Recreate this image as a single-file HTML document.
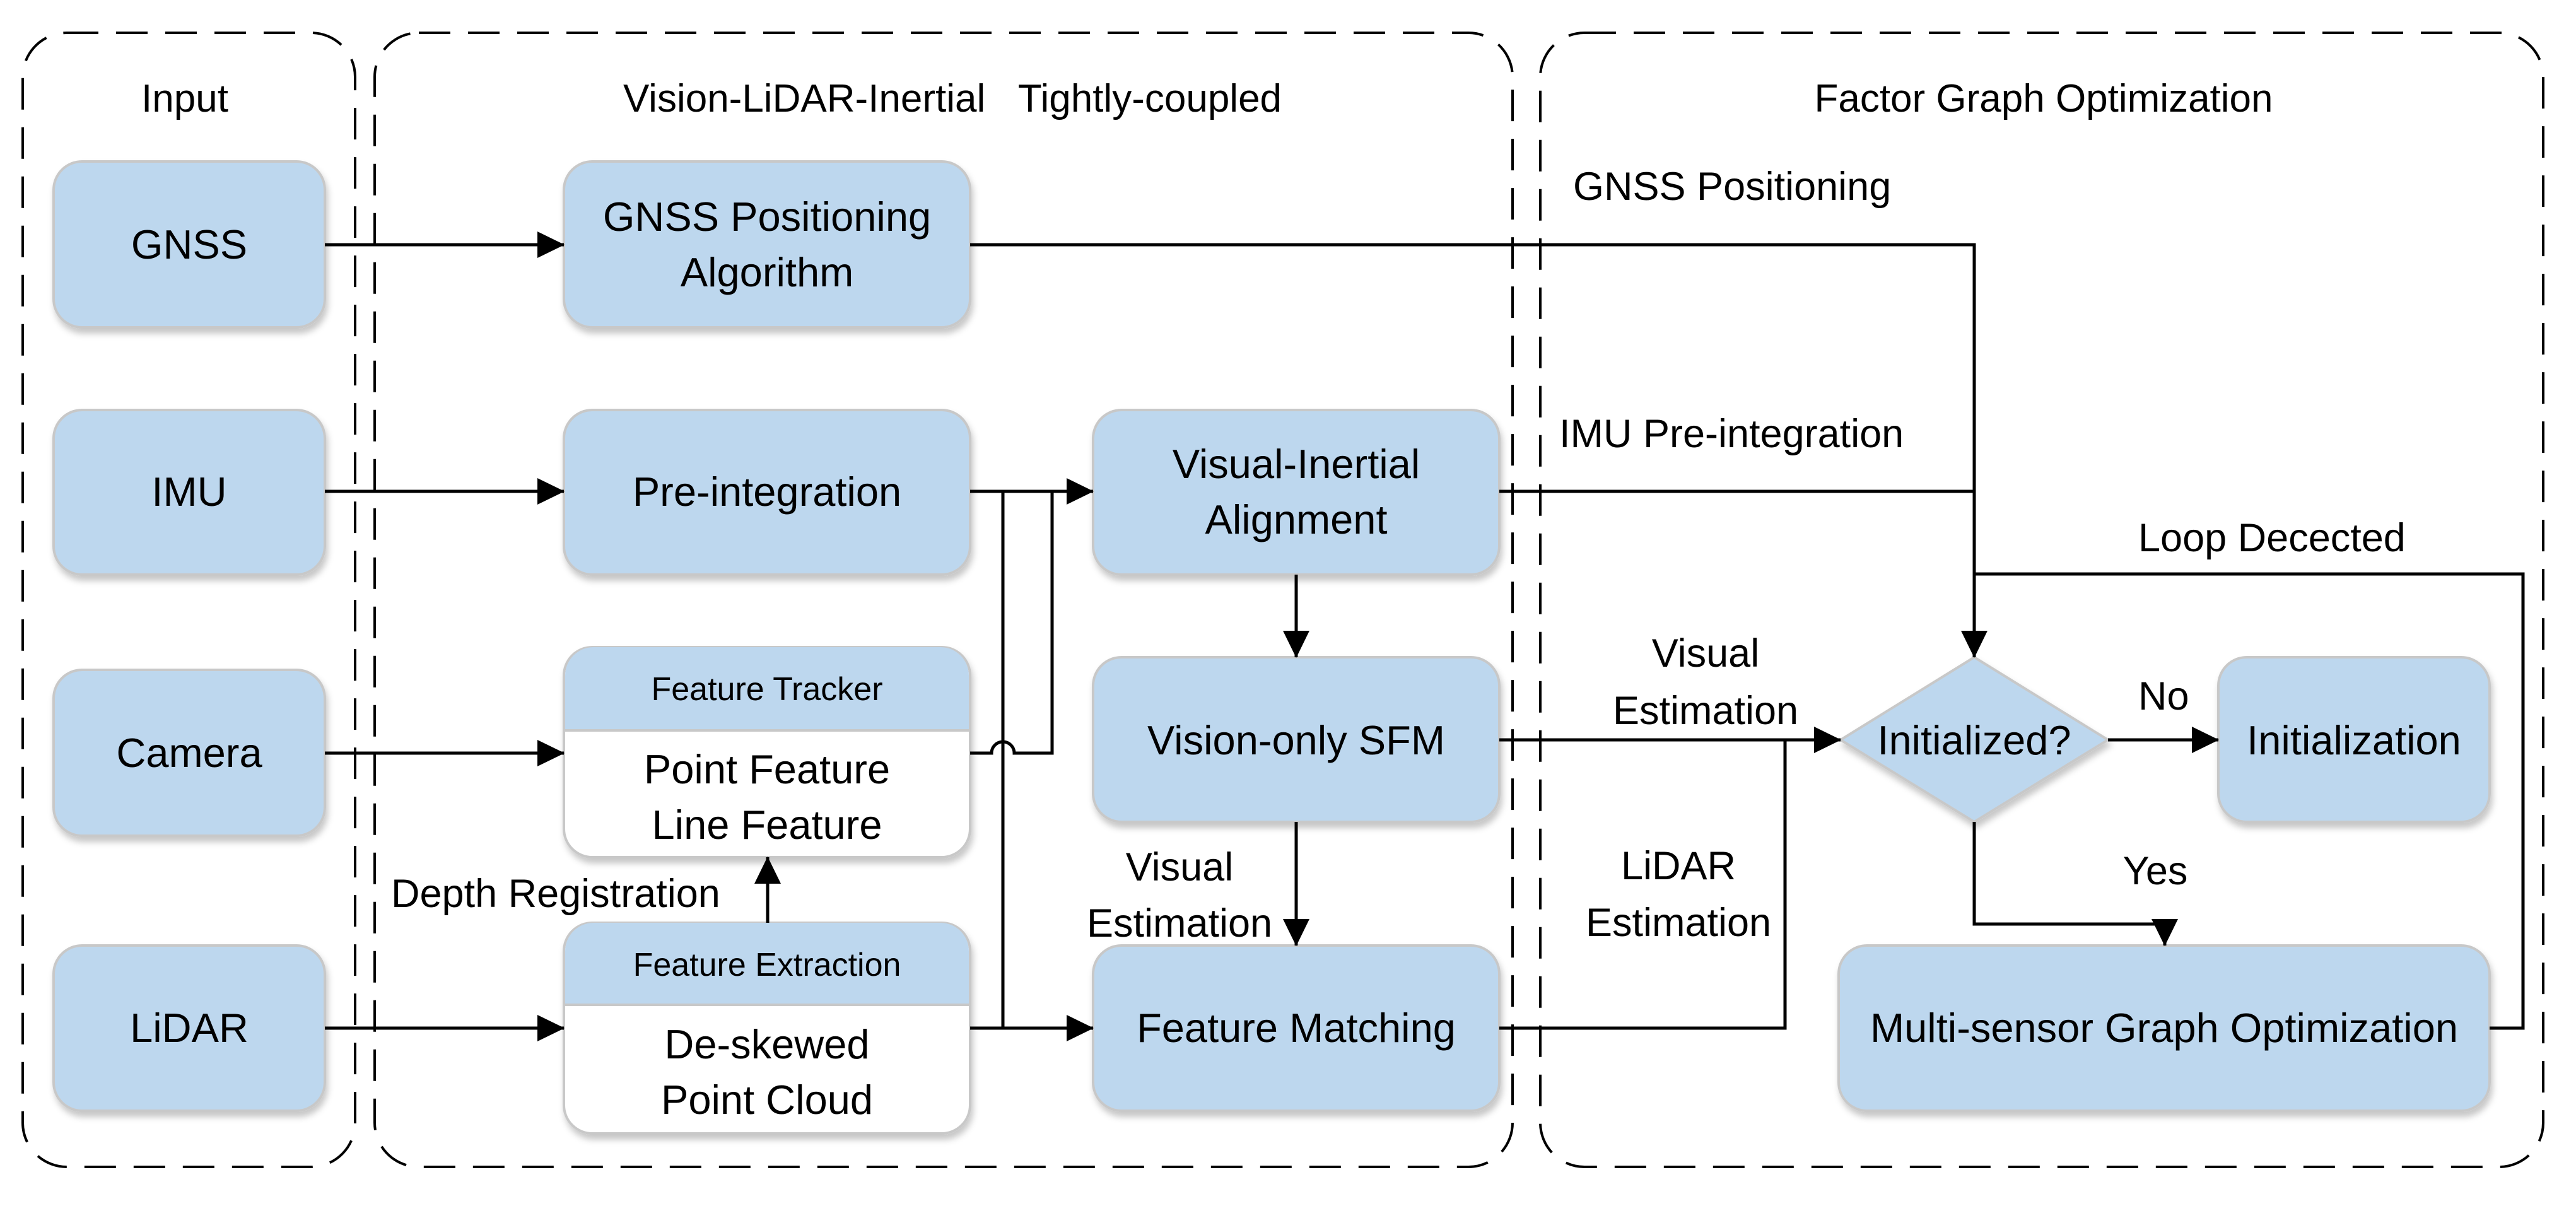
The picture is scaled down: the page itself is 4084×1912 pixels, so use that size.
<!DOCTYPE html>
<html><head><meta charset="utf-8"><style>
html,body{margin:0;padding:0;background:#fff}
svg{display:block}
text{font-family:"Liberation Sans",sans-serif;fill:#000}
</style></head><body>
<svg width="4084" height="1912" viewBox="0 0 4084 1912" xmlns="http://www.w3.org/2000/svg">
<defs>
<marker id="a" markerWidth="44" markerHeight="44" refX="42" refY="21" orient="auto" markerUnits="userSpaceOnUse">
<path d="M0,0 L43,21 L0,42 Z" fill="#000"/></marker>
<filter id="sh" x="-10%" y="-10%" width="120%" height="130%"><feDropShadow dx="3" dy="8" stdDeviation="5" flood-color="#000" flood-opacity="0.22"/></filter>
</defs>
<g fill="none" stroke="#000" stroke-width="4" stroke-dasharray="50,28">
<rect x="36" y="52" width="527" height="1798" rx="70"/>
<rect x="594" y="52" width="1804" height="1798" rx="70"/>
<rect x="2442" y="52" width="1590" height="1798" rx="70"/>
</g>
<g font-size="62" text-anchor="middle">
<text x="293" y="177">Input</text>
<text x="1510" y="177">Vision-LiDAR-Inertial&#160;&#160;&#160;Tightly-coupled</text>
<text x="3240" y="177">Factor Graph Optimization</text>
</g>
<g fill="#bdd7ee" stroke="#c8c8c8" stroke-width="4" filter="url(#sh)">
<rect x="85" y="256" width="430" height="263" rx="45"/>
<rect x="85" y="650" width="430" height="261" rx="45"/>
<rect x="85" y="1062" width="430" height="263" rx="45"/>
<rect x="85" y="1499" width="430" height="262" rx="45"/>
<rect x="894" y="256" width="644" height="263" rx="45"/>
<rect x="894" y="650" width="644" height="261" rx="45"/>
<rect x="1733" y="650" width="644" height="261" rx="45"/>
<rect x="1733" y="1042" width="644" height="261" rx="45"/>
<rect x="1733" y="1499" width="644" height="262" rx="45"/>
<rect x="3517" y="1042" width="430" height="261" rx="45"/>
<rect x="2915" y="1499" width="1032" height="262" rx="45"/>
<path d="M3130,1042 L3342,1173 L3130,1303 L2918,1173 Z"/>
</g>
<g filter="url(#sh)">
<rect x="894" y="1026" width="644" height="333" rx="45" fill="#fff" stroke="#c8c8c8" stroke-width="4"/>
<rect x="894" y="1463" width="644" height="334" rx="45" fill="#fff" stroke="#c8c8c8" stroke-width="4"/>
</g>
<path d="M896,1158 V1071 a45,45 0 0 1 45,-45 H1491 a45,45 0 0 1 45,45 V1158 Z" fill="#bdd7ee"/>
<path d="M896,1593 V1508 a45,45 0 0 1 45,-45 H1491 a45,45 0 0 1 45,45 V1593 Z" fill="#bdd7ee"/>
<g stroke="#c8c8c8" stroke-width="4"><line x1="896" y1="1158" x2="1536" y2="1158"/><line x1="896" y1="1593" x2="1536" y2="1593"/></g>
<g font-size="65" text-anchor="middle">
<text x="300" y="410">GNSS</text>
<text x="300" y="802">IMU</text>
<text x="300" y="1216">Camera</text>
<text x="300" y="1652">LiDAR</text>
<text x="1216" y="366">GNSS Positioning</text>
<text x="1216" y="454">Algorithm</text>
<text x="1216" y="802">Pre-integration</text>
<text x="1216" y="1242">Point Feature</text>
<text x="1216" y="1330">Line Feature</text>
<text x="1216" y="1678">De-skewed</text>
<text x="1216" y="1766">Point Cloud</text>
<text x="2055" y="758">Visual-Inertial</text>
<text x="2055" y="846">Alignment</text>
<text x="2055" y="1196">Vision-only SFM</text>
<text x="2055" y="1652">Feature Matching</text>
<text x="3130" y="1196">Initialized?</text>
<text x="3732" y="1196">Initialization</text>
<text x="3431" y="1652">Multi-sensor Graph Optimization</text>
</g>
<g font-size="52" text-anchor="middle">
<text x="1216" y="1110">Feature Tracker</text>
<text x="1216" y="1547">Feature Extraction</text>
</g>
<g font-size="63">
<text x="620" y="1438">Depth Registration</text>
<text x="1870" y="1396" text-anchor="middle">Visual</text>
<text x="1870" y="1485" text-anchor="middle">Estimation</text>
<text x="2494" y="317">GNSS Positioning</text>
<text x="2472" y="709">IMU Pre-integration</text>
<text x="2704" y="1057" text-anchor="middle">Visual</text>
<text x="2704" y="1148" text-anchor="middle">Estimation</text>
<text x="2661" y="1394" text-anchor="middle">LiDAR</text>
<text x="2661" y="1484" text-anchor="middle">Estimation</text>
<text x="3390" y="874">Loop Decected</text>
<text x="3390" y="1125">No</text>
<text x="3417" y="1402" text-anchor="middle">Yes</text>
</g>
<g fill="none" stroke="#000" stroke-width="5">
<line x1="515" y1="388" x2="894" y2="388" marker-end="url(#a)"/>
<line x1="515" y1="779" x2="894" y2="779" marker-end="url(#a)"/>
<line x1="515" y1="1194" x2="894" y2="1194" marker-end="url(#a)"/>
<line x1="515" y1="1630" x2="894" y2="1630" marker-end="url(#a)"/>
<line x1="1538" y1="779" x2="1733" y2="779" marker-end="url(#a)"/>
<line x1="1590" y1="779" x2="1590" y2="1630"/>
<line x1="1538" y1="1630" x2="1733" y2="1630" marker-end="url(#a)"/>
<path d="M1538,1194 H1572 A18,18 0 0 1 1608,1194 H1668 V779"/>
<line x1="1217" y1="1463" x2="1217" y2="1359" marker-end="url(#a)"/>
<line x1="2055" y1="911" x2="2055" y2="1042" marker-end="url(#a)"/>
<line x1="2055" y1="1303" x2="2055" y2="1499" marker-end="url(#a)"/>
<path d="M1538,388 H3130 V1042" marker-end="url(#a)"/>
<line x1="2377" y1="779" x2="3130" y2="779"/>
<line x1="2377" y1="1173" x2="2918" y2="1173" marker-end="url(#a)"/>
<path d="M2377,1630 H2830 V1173"/>
<line x1="3342" y1="1173" x2="3517" y2="1173" marker-end="url(#a)"/>
<path d="M3130,1303 V1465 H3432 V1499" marker-end="url(#a)"/>
<path d="M3947,1630 H4000 V910 H3130"/>
</g>
</svg>
</body></html>
